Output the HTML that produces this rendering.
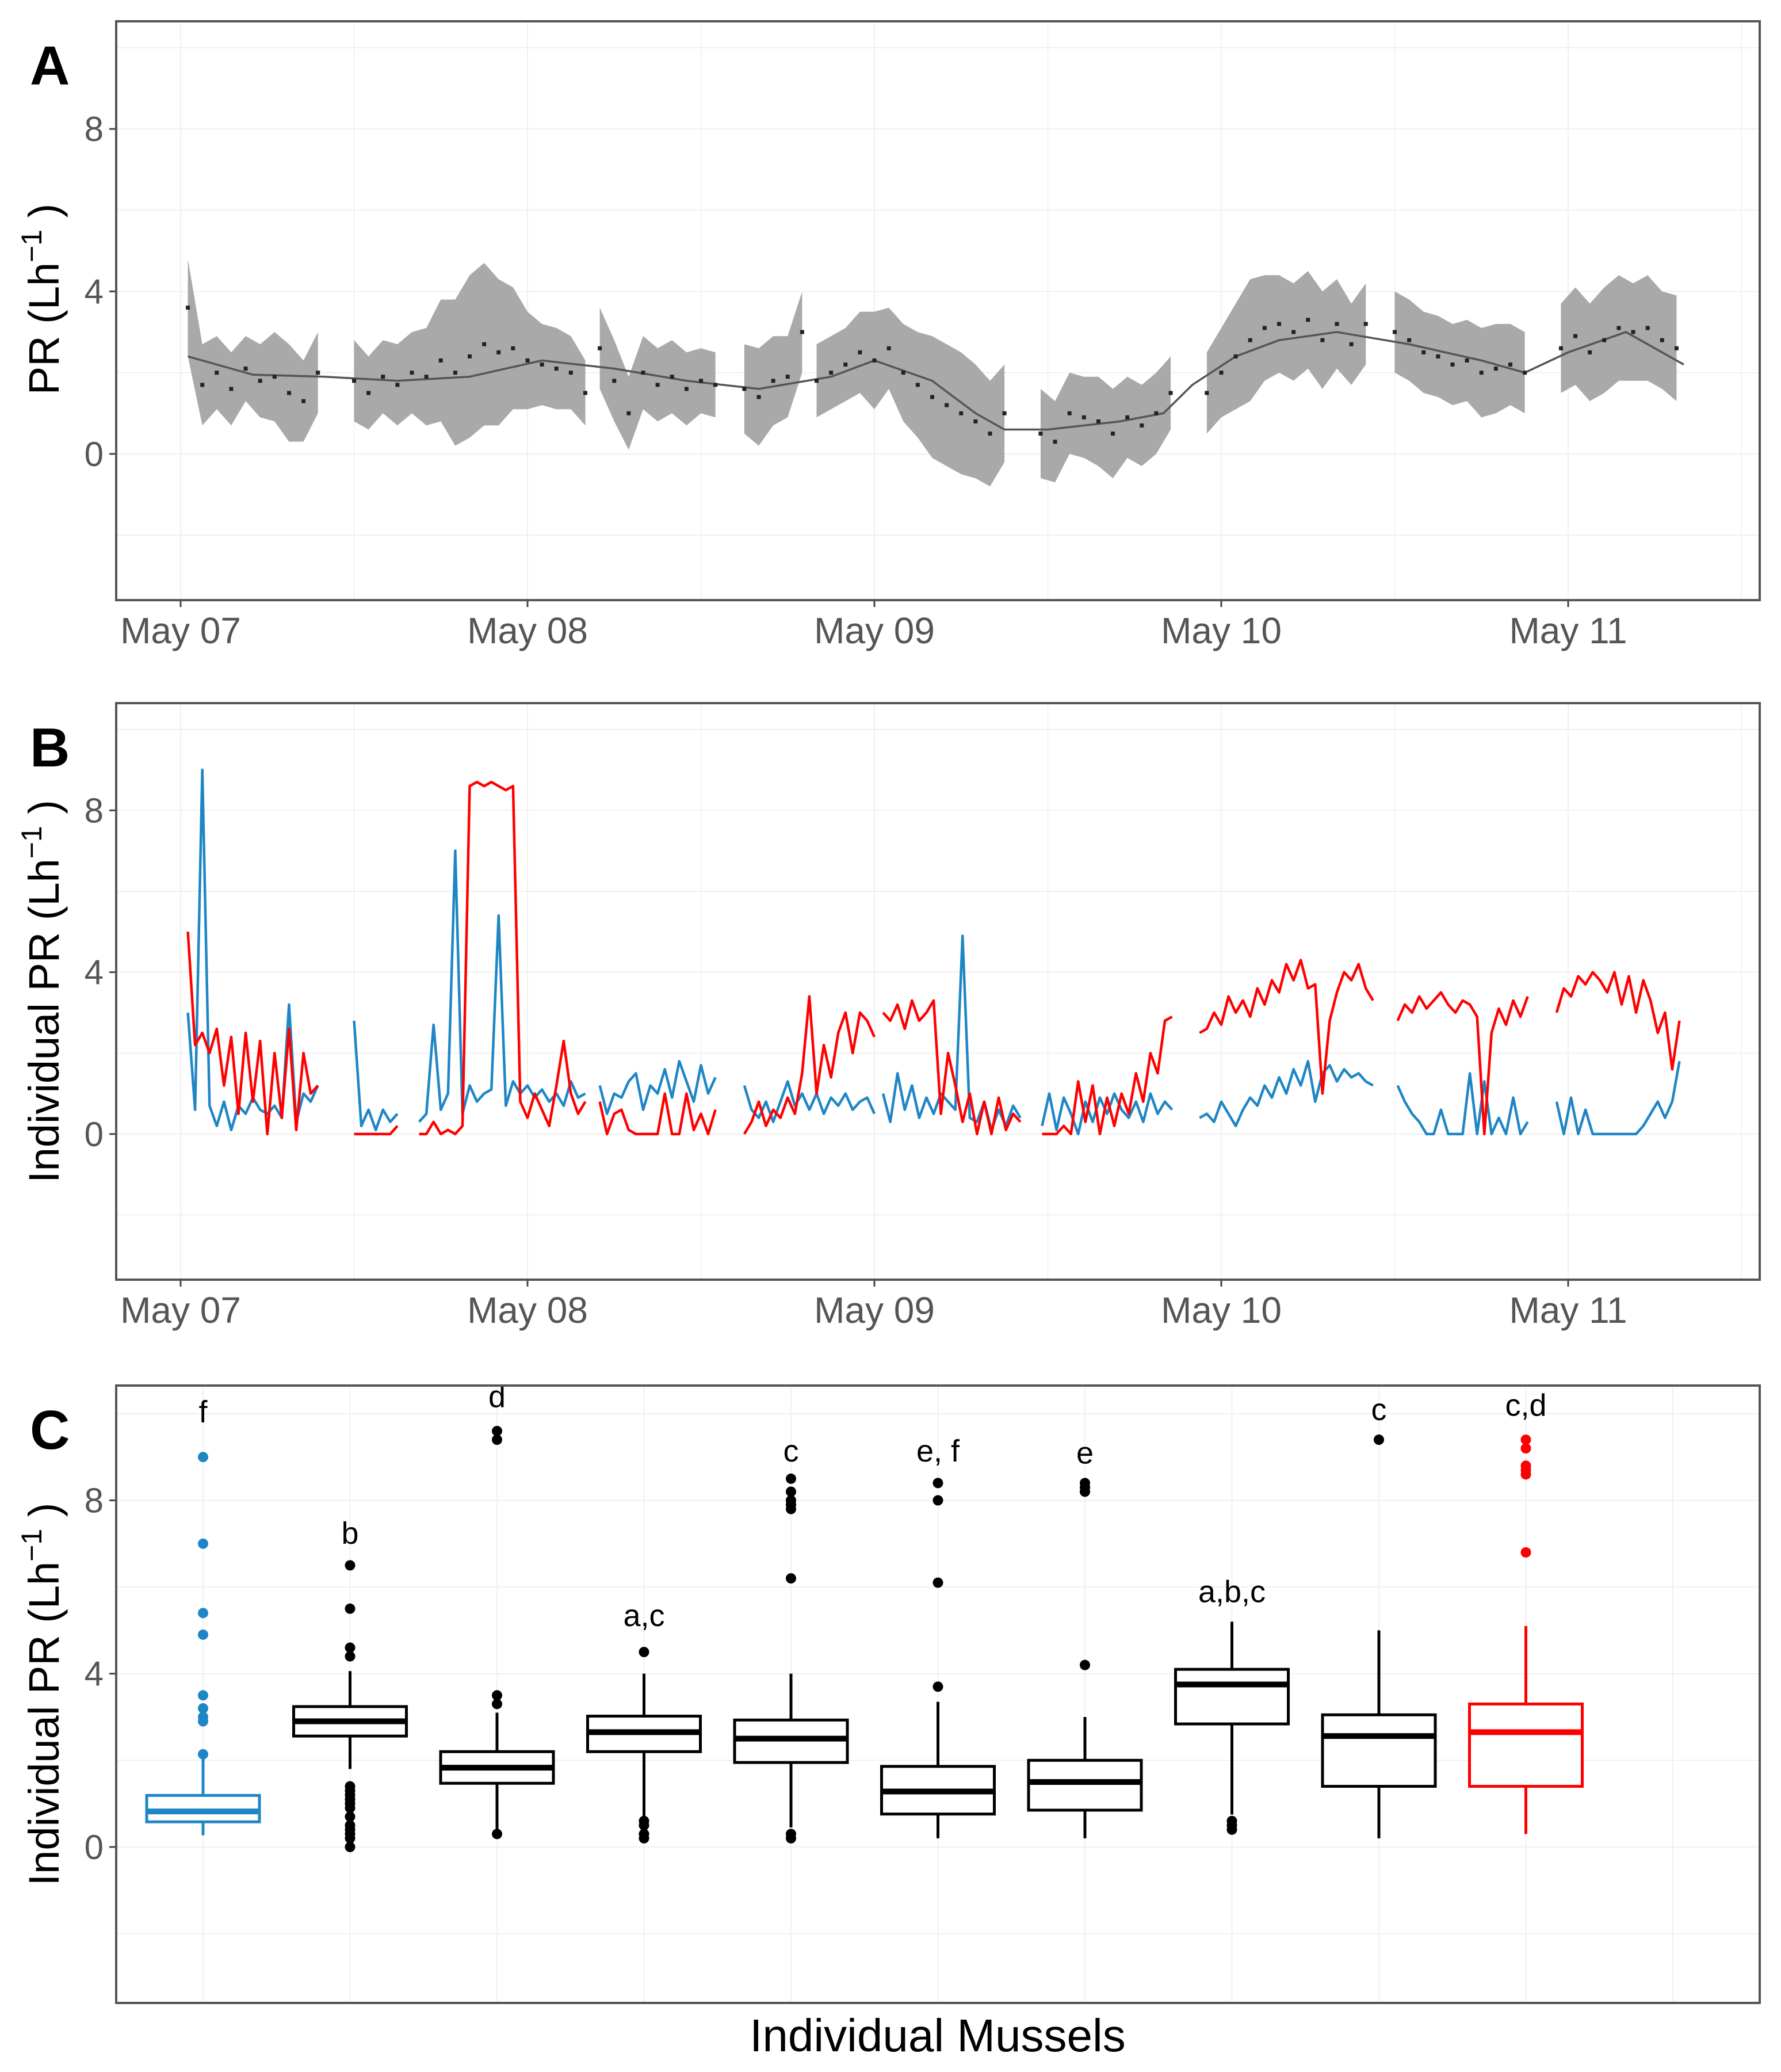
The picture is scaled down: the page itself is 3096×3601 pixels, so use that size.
<!DOCTYPE html>
<html><head><meta charset="utf-8"><style>
html,body{margin:0;padding:0;background:#fff;}
svg{display:block;font-family:"Liberation Sans",sans-serif;}
</style></head><body>
<svg id="fig" width="3096" height="3601" viewBox="0 0 3096 3601" xmlns="http://www.w3.org/2000/svg"></svg>
<script>
// ---------- data ----------
const dateTicks = ["May 07","May 08","May 09","May 10","May 11"];
const yTicks = [0,4,8];
// Panel A: segments (start hour, step 1h) of mean points and CI half widths
const aStarts = [0.5,12,29,39,44,59.5,71,84,95.5];
const aVals = [
 [3.6,1.7,2.0,1.6,2.1,1.8,1.9,1.5,1.3,2.0],
 [1.8,1.5,1.9,1.7,2.0,1.9,2.3,2.0,2.4,2.7,2.5,2.6,2.3,2.2,2.1,2.0,1.5],
 [2.6,1.8,1.0,2.0,1.7,1.9,1.6,1.8,1.7],
 [1.6,1.4,1.8,1.9,3.0],
 [1.8,2.0,2.2,2.5,2.3,2.6,2.0,1.7,1.4,1.2,1.0,0.8,0.5,1.0],
 [0.5,0.3,1.0,0.9,0.8,0.5,0.9,0.7,1.0,1.5],
 [1.5,2.0,2.4,2.8,3.1,3.2,3.0,3.3,2.8,3.2,2.7,3.2],
 [3.0,2.8,2.5,2.4,2.2,2.3,2.0,2.1,2.2,2.0],
 [2.6,2.9,2.5,2.8,3.1,3.0,3.1,2.8,2.6]];
const aHalf = [
 [1.2,1.0,0.9,0.9,0.8,0.9,1.1,1.2,1.0,1.0],
 [1.0,0.9,0.9,1.0,1.0,1.2,1.5,1.8,2.0,2.0,1.8,1.5,1.2,1.0,1.0,0.9,0.8],
 [1.0,1.0,0.9,0.9,0.9,0.9,0.9,0.8,0.8],
 [1.1,1.2,1.1,1.0,1.0],
 [0.9,0.9,0.9,1.0,1.2,1.0,1.2,1.3,1.5,1.5,1.5,1.4,1.3,1.2],
 [1.1,1.0,1.0,1.0,1.1,1.1,1.0,1.0,1.0,0.9],
 [1.0,1.1,1.3,1.5,1.3,1.2,1.2,1.2,1.2,1.1,1.0,1.0],
 [1.0,1.0,1.0,1.0,1.0,1.0,1.1,1.1,1.0,1.0],
 [1.1,1.2,1.2,1.3,1.3,1.2,1.3,1.2,1.3]];
const smoothHours = [0.5,5,10,15,20,25,30,35,40,45,48,52,55,57,60,65,68,70,73,76,80,85,90,93,96,100,104];
const smoothVals  = [2.4,1.95,1.9,1.8,1.9,2.3,2.1,1.8,1.6,1.9,2.3,1.8,1.0,0.6,0.6,0.8,1.0,1.7,2.4,2.8,3.0,2.7,2.3,2.0,2.5,3.0,2.2];
// Panel B: segments, step 0.5h
const bStarts = [0.5,12,29,39,48.6,59.6,70.5,84.2,95.2];
const bBlue = [
 [3.0,0.6,9.0,0.7,0.2,0.8,0.1,0.7,0.5,0.9,0.6,0.5,0.7,0.4,3.2,0.3,1.0,0.8,1.2],
 [2.8,0.2,0.6,0.1,0.6,0.3,0.5,null,null,0.3,0.5,2.7,0.6,1.0,7.0,0.5,1.2,0.8,1.0,1.1,5.4,0.7,1.3,1.0,1.2,0.9,1.1,0.8,1.0,0.7,1.3,0.9,1.0],
 [1.2,0.5,1.0,0.9,1.3,1.5,0.6,1.2,1.0,1.6,0.9,1.8,1.3,0.8,1.7,1.0,1.4],
 [1.2,0.6,0.4,0.8,0.3,0.8,1.3,0.7,1.0,0.6,1.0,0.5,0.9,0.7,1.0,0.6,0.8,0.9,0.5],
 [1.0,0.3,1.5,0.6,1.2,0.4,0.9,0.5,1.0,0.8,0.6,4.9,0.4,0.3,0.8,0.1,0.6,0.2,0.7,0.4],
 [0.2,1.0,0.1,0.9,0.5,0.0,0.8,0.3,0.9,0.5,1.0,0.6,0.4,0.8,0.3,1.0,0.5,0.8,0.6],
 [0.4,0.5,0.3,0.8,0.5,0.2,0.6,0.9,0.7,1.2,0.9,1.4,1.0,1.6,1.2,1.8,0.8,1.5,1.7,1.3,1.6,1.4,1.5,1.3,1.2],
 [1.2,0.8,0.5,0.3,0.0,0.0,0.6,0.0,0.0,0.0,1.5,0.0,1.3,0.0,0.4,0.0,0.9,0.0,0.3],
 [0.8,0.0,0.9,0.0,0.6,0.0,0.0,0.0,0.0,0.0,0.0,0.0,0.2,0.5,0.8,0.4,0.8,1.8]];
const bRed = [
 [5.0,2.2,2.5,2.0,2.6,1.2,2.4,0.5,2.5,0.8,2.3,0.0,2.0,0.4,2.6,0.1,2.0,1.0,1.2],
 [0,0,0,0,0,0,0.2,null,null,0,0,0.3,0,0.1,0,0.2,8.6,8.7,8.6,8.7,8.6,8.5,8.6,0.8,0.4,1.0,0.6,0.2,1.2,2.3,1.0,0.5,0.8],
 [0.8,0.0,0.5,0.6,0.1,0.0,0.0,0.0,0.0,1.0,0.0,0.0,1.0,0.1,0.5,0.0,0.6],
 [0,0.3,0.8,0.2,0.6,0.4,0.9,0.5,1.5,3.4,1.0,2.2,1.4,2.5,3.0,2.0,3.0,2.8,2.4],
 [3.0,2.8,3.2,2.6,3.3,2.8,3.0,3.3,0.5,2.0,1.2,0.3,1.0,0,0.8,0,0.9,0.1,0.5,0.3],
 [0,0,0,0.2,0.0,1.3,0.3,1.2,0.0,0.9,0.2,1.0,0.5,1.5,0.8,2.0,1.5,2.8,2.9],
 [2.5,2.6,3.0,2.7,3.4,3.0,3.3,2.9,3.6,3.2,3.8,3.5,4.2,3.8,4.3,3.6,3.7,1.0,2.8,3.5,4.0,3.8,4.2,3.6,3.3],
 [2.8,3.2,3.0,3.4,3.1,3.3,3.5,3.2,3.0,3.3,3.2,2.9,0.0,2.5,3.1,2.7,3.3,2.9,3.4],
 [3.0,3.6,3.4,3.9,3.7,4.0,3.8,3.5,4.0,3.2,3.9,3.0,3.8,3.3,2.5,3.0,1.6,2.8]];
// Panel C: box stats
const boxLabels = ["f","b","d","a,c","c","e, f","e","a,b,c","c","c,d"];
const boxLow  = [0.27,1.8,0.37,0.6,0.45,0.2,0.2,0.75,0.2,0.3];
const boxQ1   = [0.58,2.56,1.47,2.2,1.95,0.76,0.85,2.84,1.4,1.4];
const boxMed  = [0.82,2.9,1.83,2.65,2.5,1.28,1.5,3.75,2.56,2.65];
const boxQ3   = [1.19,3.24,2.2,3.02,2.93,1.86,2.0,4.1,3.05,3.3];
const boxHigh = [2.14,4.06,3.1,4.0,4.0,3.35,3.0,5.2,5.0,5.1];
const boxOut = [
 [2.14,2.9,3.0,3.2,3.5,4.9,5.4,7.0,9.0],
 [4.4,4.6,5.5,6.5,1.4,1.3,1.2,1.1,1.0,0.9,0.7,0.5,0.4,0.3,0.2,0.0],
 [3.3,3.5,9.4,9.6,0.3],
 [4.5,0.6,0.5,0.3,0.2],
 [6.2,7.8,7.9,8.0,8.2,8.5,0.3,0.2],
 [3.7,6.1,8.0,8.4],
 [4.2,8.2,8.3,8.4],
 [0.6,0.5,0.4],
 [9.4],
 [6.8,8.6,8.7,8.8,9.2,9.4]];
const boxLabelVals = [9.8,7.0,10.15,5.1,8.9,8.9,8.85,5.65,9.85,9.95];

// ---------- helpers ----------
const NS="http://www.w3.org/2000/svg", svg=document.getElementById('fig');
function mk(tag,attrs,parent){const e=document.createElementNS(NS,tag);for(const k in attrs)e.setAttribute(k,attrs[k]);(parent||svg).appendChild(e);return e;}
const X0=202,X1=3059;
const xH = h => 314 + h*603/24;
function yScale(top,bot){const lo=-3.6,hi=10.65;return v=>bot-(v-lo)/(hi-lo)*(bot-top);}
const panels=[{top:37,bot:1043,name:'panel-a'},{top:1222,bot:2224,name:'panel-b'},{top:2408,bot:3481,name:'panel-c'}];

function frame(p,isDate,letter,title){
  const g=mk('g',{});  
  const y=yScale(p.top,p.bot);
  const grid=mk('g',{stroke:'#f0f0f0','stroke-width':2},g);
   
  [-2,0,2,4,6,8,10].forEach(v=>mk('line',{x1:X0,x2:X1,y1:y(v),y2:y(v)},grid));
  if(isDate){for(let d=0;d<=4;d++){mk('line',{x1:xH(d*24),x2:xH(d*24),y1:p.top,y2:p.bot},grid);mk('line',{x1:xH(d*24+12),x2:xH(d*24+12),y1:p.top,y2:p.bot,'stroke-width':1.5},grid);}}
  else{for(let i=0;i<11;i++){const cx=353+i*255.5;mk('line',{x1:cx,x2:cx,y1:p.top,y2:p.bot},grid);}}
  yTicks.forEach(v=>{
    mk('line',{x1:X0-12,x2:X0,y1:y(v),y2:y(v),stroke:'#444','stroke-width':3},g);
    const t=mk('text',{x:X0-22,y:y(v)+21,'text-anchor':'end','font-size':60,fill:'#555'},g);t.textContent=v;
     
  });
  if(isDate){dateTicks.forEach((s,i)=>{
    mk('line',{x1:xH(i*24),x2:xH(i*24),y1:p.bot,y2:p.bot+12,stroke:'#444','stroke-width':3},g);
    const t=mk('text',{x:xH(i*24),y:p.bot+75,'text-anchor':'middle','font-size':64,fill:'#555'},g);t.textContent=s;
     
  });}
  const L=mk('text',{x:52,y:p.top+110,'font-size':96,'font-weight':'bold',fill:'#000'},g);L.textContent=letter;
   
  const cy=(p.top+p.bot)/2-(letter==='A'?20:0);
  const T=mk('text',{x:0,y:0,'text-anchor':'middle','font-size':74,fill:'#000',transform:`translate(102,${cy}) rotate(-90)`},g);
   
  const pre=mk('tspan',{},T);pre.textContent=title+'(Lh';
  const sup=mk('tspan',{dy:-30,'font-size':50},T);sup.textContent='−1';
  const post=mk('tspan',{dy:30},T);post.textContent=' )';
  return {g,y};
}
function frameBorder(p,g){const r=mk('rect',{x:X0,y:p.top,width:X1-X0,height:p.bot-p.top,fill:'none',stroke:'#555','stroke-width':4},g);}

// ---------- Panel A ----------
(function(){
  const p=panels[0]; const {g,y}=frame(p,true,'A','PR ');
  aStarts.forEach((s,si)=>{
    const v=aVals[si],hw=aHalf[si];
    let up=[],dn=[];
    v.forEach((val,i)=>{const h=s+i;up.push(xH(h)+','+y(val+hw[i]));dn.unshift(xH(h)+','+y(val-hw[i]));});
    const rb=mk('polygon',{points:up.concat(dn).join(' '),fill:'#a9a9a9'},g);
     
  });
  const sp=mk('polyline',{points:smoothHours.map((h,i)=>xH(h)+','+y(smoothVals[i])).join(' '),fill:'none',stroke:'#555','stroke-width':3.5,'stroke-linejoin':'round'},g);
   
  aStarts.forEach((s,si)=>{aVals[si].forEach((val,i)=>{
    const c=mk('rect',{x:xH(s+i)-3.5,y:y(val)-3.5,width:7,height:7,fill:'#222'},g);
     
  });});
  frameBorder(p,g);
})();

// ---------- Panel B ----------
(function(){
  const p=panels[1]; const {g,y}=frame(p,true,'B','Individual PR ');
  function draw(arrs,color,name){
    bStarts.forEach((s,si)=>{
      let pts=[];
      const flush=()=>{if(pts.length>1){const l=mk('polyline',{points:pts.join(' '),fill:'none',stroke:color,'stroke-width':4.5,'stroke-linejoin':'round'},g);}pts=[];};
      arrs[si].forEach((v,i)=>{if(v===null){flush();}else pts.push(xH(s+i*0.5)+','+y(v));});
      flush();
    });
  }
  draw(bBlue,'#1f86c6','mussel-blue-line');
  draw(bRed,'#ff0000','mussel-red-line');
  frameBorder(p,g);
})();

// ---------- Panel C ----------
(function(){
  const p=panels[2]; const {g,y}=frame(p,false,'C','Individual PR ');
  const W=196;
  boxLabels.forEach((lab,i)=>{
    const cx=353+i*255.5, col=i===0?'#1f86c6':(i===9?'#ff0000':'#000');
    const bg=mk('g',{},g);  
    mk('line',{x1:cx,x2:cx,y1:y(boxLow[i]),y2:y(boxQ1[i]),stroke:col,'stroke-width':5},bg);
    mk('line',{x1:cx,x2:cx,y1:y(boxQ3[i]),y2:y(boxHigh[i]),stroke:col,'stroke-width':5},bg);
    mk('rect',{x:cx-W/2,y:y(boxQ3[i]),width:W,height:y(boxQ1[i])-y(boxQ3[i]),fill:'#fff',stroke:col,'stroke-width':5},bg);
    mk('line',{x1:cx-W/2,x2:cx+W/2,y1:y(boxMed[i]),y2:y(boxMed[i]),stroke:col,'stroke-width':10},bg);
    boxOut[i].forEach(v=>mk('circle',{cx:cx,cy:y(v),r:9,fill:col},bg));
    const t=mk('text',{x:cx,y:y(boxLabelVals[i]),'text-anchor':'middle','font-size':54,fill:'#000'},g);t.textContent=lab;
     
  });
  frameBorder(p,g);
  const xt=mk('text',{x:1630,y:3565,'text-anchor':'middle','font-size':80,fill:'#000'});xt.textContent='Individual Mussels';
   
})();
</script>
</body></html>
